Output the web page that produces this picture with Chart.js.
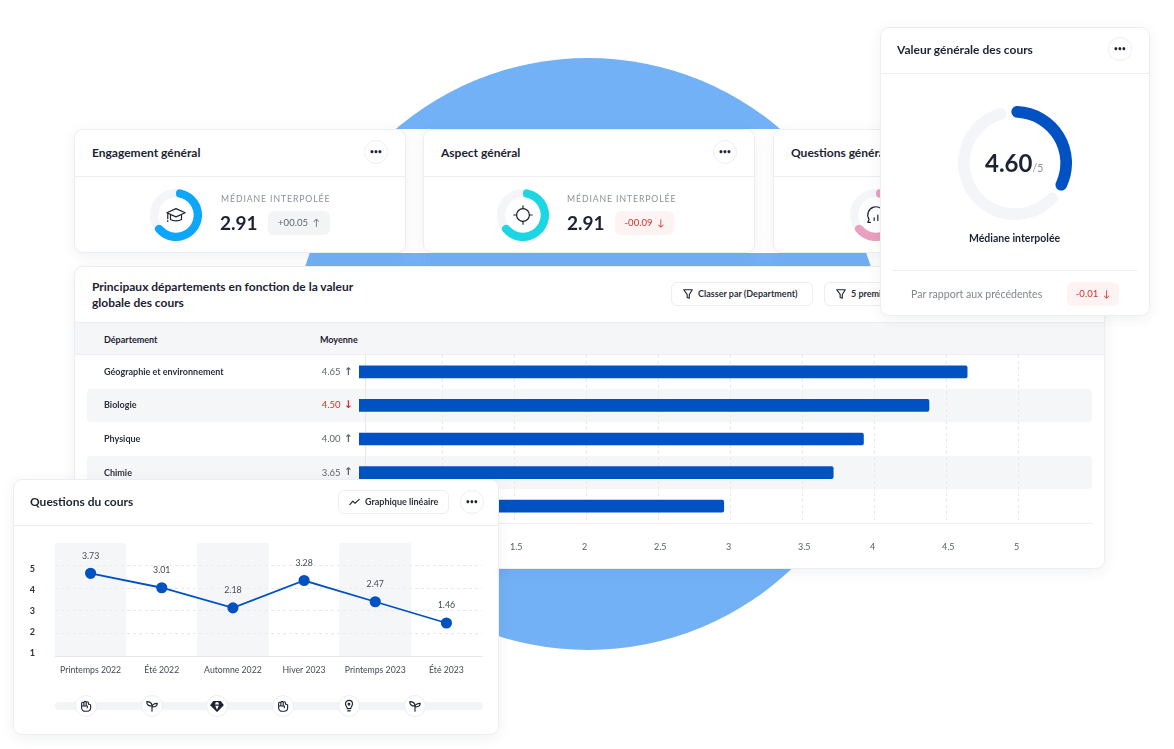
<!DOCTYPE html>
<html lang="fr">
<head>
<meta charset="UTF-8">
<title>Tableau de bord des cours</title>
<script src="https://cdn.jsdelivr.net/npm/chart.js"></script>
<style>
  html, body { margin: 0; background: #fff; }
  body { width: 1174px; height: 749px; position: relative; overflow: hidden; font-family: Lato, sans-serif; color: #1c2333; }
  .layer { position: absolute; left: 0; top: 0; }
  .layer > * { position: absolute; }
  .blob { left: 292px; top: 58px; width: 592px; height: 592px; border-radius: 50%; background: #73b1f6; }
  .card { background: #fff; border: 1px solid #eceef2; border-radius: 9px; box-shadow: 0 3px 14px rgba(40,50,80,.07); box-sizing: border-box; }
  .rule { height: 1px; background: #eceef2; }
  .t { white-space: nowrap; line-height: 16px; }
  .title { font-size: 12px; font-weight: 700; }
  .dots { width: 24px; height: 24px; border: 1px solid #eceef2; border-radius: 50%; box-sizing: border-box; background: #fff; text-align: center; font-size: 6.5px; line-height: 22px; letter-spacing: .3px; font-weight: 700; }
  .caps { font-size: 8.7px; letter-spacing: .9px; color: #8a909c; }
  .big { font-size: 19px; font-weight: 700; line-height: 24px; }
  .badge { border-radius: 6px; text-align: center; font-size: 9.5px; line-height: 24px; white-space: nowrap; }
  .grey { background: #f3f4f6; color: #5d6470; }
  .red { background: #fdf3f2; color: #d3322c; }
  .btn { height: 24px; border: 1px solid #eceef2; border-radius: 6px; box-sizing: border-box; background: #fff; font-size: 9px; font-weight: 700; line-height: 22px; white-space: nowrap; color: #2a3140; }
  .btn svg { vertical-align: -3px; margin: 0 4px 0 10px; }
  .stripe { left: 87px; width: 1005px; height: 33px; background: #f5f6f8; border-radius: 4px; }
  .node { width: 22px; height: 22px; top: 695px; border: 1px solid #eceef2; border-radius: 50%; box-sizing: border-box; background: #fff; }
  .node svg { position: absolute; left: 3px; top: 3px; }
  svg { fill: none; stroke: #1c2333; stroke-width: 1.3; stroke-linecap: round; stroke-linejoin: round; }
</style>
</head>
<body>
<svg width="0" height="0" style="position:absolute">
  <symbol id="funnel" viewBox="0 0 14 14"><path d="M2 2h10L8.500 7.500V12L6 11V7.500z"/></symbol>
  <symbol id="cap" viewBox="0 0 24 24"><path d="M12 5 2 9.500l10 4.500 10-4.500zM6 12v5c3 2 9 2 12 0v-5M3 11v5M3 18v1"/></symbol>
  <symbol id="target" viewBox="0 0 24 24"><circle cx="12" cy="12" r="7"/><path d="M12 2v3M12 19v3M2 12h3M19 12h3"/></symbol>
  <symbol id="chat" viewBox="0 0 24 24"><path d="M6 20H3l1.500-3A9 9 0 1 1 21 12M10 18v-3M14 18v-6M18 18V9"/></symbol>
  <symbol id="fist" viewBox="0 0 16 16"><path d="M3 8V5a1.300 1.300 0 0 1 2.600 0V4a1.300 1.300 0 0 1 2.600 0v.500a1.300 1.300 0 0 1 2.600 0V6h1a1.500 1.500 0 0 1 1.500 1.500V10a4 4 0 0 1-4 4H7a4 4 0 0 1-4-4zM3 8h6.500v2M5.600 5v3M8.200 4.500V8"/></symbol>
  <symbol id="sprout" viewBox="0 0 16 16"><path d="M8 14V8C8 5 6 3 2 3c0 3 2 5 6 5M8 9c0-2 2-4 6-4 0 3-2 4-6 4"/></symbol>
  <symbol id="gem" viewBox="0 0 16 16"><path d="M4 3h8l3 4-7 7-7-7zM1 7h14M6 3 5 7l3 7 3-7-1-4" fill="#1c2333"/></symbol>
  <symbol id="bulb" viewBox="0 0 16 16"><path d="M6 11c0-2-2-3-2-5.500a4 4 0 0 1 8 0C12 8 10 9 10 11zM6.500 13.500h3"/><circle cx="8" cy="6" r="1"/></symbol>
  <symbol id="spark" viewBox="0 0 14 14"><path d="m1 10 3.500-4 2.500 2.500L12 4"/></symbol>
</svg>

<div class="layer" style="z-index:1">
  <div class="blob"></div>
  <div style="left:74px;top:129px;width:1031px;height:124px;background:#fff"></div>
</div>

<!-- departements -->
<div class="layer" style="z-index:2">
  <div class="card" style="left:74px;top:266px;width:1031px;height:303px"></div>
  <div class="t title" style="left:92px;top:279px">Principaux départements en fonction de la valeur</div>
  <div class="t title" style="left:92px;top:295px">globale des cours</div>
  <div class="btn" style="left:671px;top:282px;width:142px"><svg width="12" height="12"><use href="#funnel"/></svg>Classer par (Department)</div>
  <div class="btn" style="left:824px;top:282px;width:130px"><svg width="12" height="12"><use href="#funnel"/></svg>5 premiers</div>
  <div style="left:75px;top:322px;width:1029px;height:33px;background:#f5f6f8;border-top:1px solid #eceef2;border-bottom:1px solid #eceef2;box-sizing:border-box"></div>
  <div class="t" style="left:104px;top:332px;font-size:9px;font-weight:700">Département</div>
  <div class="t" style="left:320px;top:332px;font-size:9px;font-weight:700">Moyenne</div>
  <div class="stripe" style="top:389px"></div>
  <div class="stripe" style="top:456px"></div>
  <canvas id="barChart" width="1029" height="211" style="left:75px;top:355px"></canvas>
</div>

<!-- cartes du haut -->
<div class="layer" style="z-index:3">
  <div class="card" style="left:74px;top:129px;width:332px;height:124px"></div>
  <div class="t title" style="left:92px;top:145px">Engagement général</div>
  <div class="dots" style="left:364px;top:140px">•••</div>
  <div class="rule" style="left:75px;top:176px;width:330px"></div>
  <canvas id="ringEngagement" width="52" height="52" style="left:150px;top:189px"></canvas>
  <svg width="22" height="22" style="left:165px;top:204px"><use href="#cap"/></svg>
  <div class="t caps" style="left:221px;top:191px">MÉDIANE INTERPOLÉE</div>
  <div class="big" style="left:220px;top:211px">2.91</div>
  <div class="badge grey" style="left:268px;top:211px;width:62px">+00.05 &nbsp;↑</div>

  <div class="card" style="left:423px;top:129px;width:332px;height:124px"></div>
  <div class="t title" style="left:441px;top:145px">Aspect général</div>
  <div class="dots" style="left:713px;top:140px">•••</div>
  <div class="rule" style="left:424px;top:176px;width:330px"></div>
  <canvas id="ringAspect" width="52" height="52" style="left:497px;top:189px"></canvas>
  <svg width="22" height="22" style="left:512px;top:204px"><use href="#target"/></svg>
  <div class="t caps" style="left:567px;top:191px">MÉDIANE INTERPOLÉE</div>
  <div class="big" style="left:567px;top:211px">2.91</div>
  <div class="badge red" style="left:615px;top:211px;width:59px">-00.09 &nbsp;↓</div>

  <div class="card" style="left:773px;top:129px;width:332px;height:124px"></div>
  <div class="t title" style="left:791px;top:145px">Questions générales</div>
  <div class="rule" style="left:774px;top:176px;width:330px"></div>
  <canvas id="ringQuestions" width="52" height="52" style="left:850px;top:189px"></canvas>
  <svg width="22" height="22" style="left:865px;top:204px"><use href="#chat"/></svg>
</div>

<!-- questions du cours -->
<div class="layer" style="z-index:4">
  <div class="card" style="left:13px;top:479px;width:486px;height:256px"></div>
  <div class="t title" style="left:30px;top:494px">Questions du cours</div>
  <div class="btn" style="left:338px;top:490px;width:111px"><svg width="12" height="12"><use href="#spark"/></svg>Graphique linéaire</div>
  <div class="dots" style="left:460px;top:490px">•••</div>
  <div class="rule" style="left:14px;top:525px;width:484px"></div>
  <canvas id="lineChart" width="484" height="165" style="left:14px;top:526px"></canvas>
  <div style="left:55px;top:702px;width:428px;height:8px;background:#f3f4f6;border-radius:4px"></div>
  <div class="node" style="left:75px"><svg width="14" height="14"><use href="#fist"/></svg></div>
  <div class="node" style="left:141px"><svg width="14" height="14"><use href="#sprout"/></svg></div>
  <div class="node" style="left:206px"><svg width="14" height="14"><use href="#gem"/></svg></div>
  <div class="node" style="left:272px"><svg width="14" height="14"><use href="#fist"/></svg></div>
  <div class="node" style="left:338px"><svg width="14" height="14"><use href="#bulb"/></svg></div>
  <div class="node" style="left:404px"><svg width="14" height="14"><use href="#sprout"/></svg></div>
</div>

<!-- valeur generale -->
<div class="layer" style="z-index:5">
  <div class="card" style="left:880px;top:27px;width:270px;height:289px"></div>
  <div class="t title" style="left:897px;top:42px">Valeur générale des cours</div>
  <div class="dots" style="left:1108px;top:37px">•••</div>
  <div class="rule" style="left:881px;top:73px;width:268px"></div>
  <canvas id="ringValue" width="114" height="114" style="left:958px;top:106px"></canvas>
  <div class="t" style="left:985px;top:147px;font-size:24px;font-weight:700;line-height:32px">4.60<span style="font-size:10.5px;font-weight:400;color:#8a909c">/5</span></div>
  <div class="t" style="left:969px;top:230px;font-size:10.5px;font-weight:700">Médiane interpolée</div>
  <div class="rule" style="left:892px;top:270px;width:245px"></div>
  <div class="t" style="left:911px;top:286px;font-size:10.6px;color:#80868f">Par rapport aux précédentes</div>
  <div class="badge red" style="left:1067px;top:282px;width:52px">-0.01 &nbsp;↓</div>
</div>

<script>
const departments = ['Géographie et environnement', 'Biologie', 'Physique', 'Chimie', 'Informatique'];
const meanLabels = ['4.65', '4.50', '4.00', '3.65', '3.00'];
const meanTrend = ['↑', '↓', '↑', '↑', '↑'];
const barValues = [4.64, 4.375, 3.92, 3.71, 2.95];
const barTicks = [0.463, 1, 1.5, 2, 2.5, 3, 3.5, 4, 4.5, 5];

const terms = ['Printemps 2022', 'Été 2022', 'Automne 2022', 'Hiver 2023', 'Printemps 2023', 'Été 2023'];
const termValues = [3.66, 3.02, 2.13, 3.34, 2.4, 1.46];
const termLabels = ['3.73', '3.01', '2.18', '3.28', '2.47', '1.46'];
const termBands = [5, null, 5, null, 5, null];
const gridTicks = [1, 2, 3, 4];
const scoreTicks = [1, 2, 3, 4, 5];

const engagementArc = [67, 33];
const aspectArc = [67, 33];
const questionsArc = [67, 33];
const valueArc = [36, 64];

const BLUE = '#0052c2';
Chart.defaults.font.family = 'Lato, sans-serif';
Chart.defaults.animation = false;
Chart.defaults.responsive = false;
Chart.defaults.plugins.legend.display = false;
Chart.defaults.plugins.tooltip.enabled = false;

// la demi-hauteur des libelles ne doit pas decaler la zone de trace
function noScalePadding(s) {
    s.paddingTop = 0;
    s.paddingBottom = 0;
}

// moyenne + fleche, a gauche des barres
const meanColumn = {
    id: 'meanColumn',
    afterDraw(chart) {
        const ctx = chart.ctx;
        ctx.save();
        ctx.textBaseline = 'middle';
        meanLabels.forEach((label, i) => {
            const y = chart.scales.y.getPixelForValue(i);
            ctx.fillStyle = meanTrend[i] === '↓' ? '#d3322c' : '#5d6470';
            ctx.font = '9.5px Lato, sans-serif';
            ctx.textAlign = 'right';
            ctx.fillText(label, 265.5, y);
            ctx.font = 'bold 10.5px "DejaVu Sans", sans-serif';
            ctx.textAlign = 'center';
            ctx.fillText(meanTrend[i], 273.5, y);
        });
        ctx.restore();
    }
};

new Chart(document.getElementById('barChart'), {
    type: 'bar',
    data: {
        labels: departments,
        datasets: [{ data: barValues, backgroundColor: BLUE, borderRadius: 2, borderSkipped: 'left', barThickness: 12 }]
    },
    options: {
        indexAxis: 'y',
        layout: { padding: { left: 29, right: 12 } },
        scales: {
            x: {
                min: 0.417,
                max: 5.507,
                afterBuildTicks(s) { s.ticks = barTicks.map(v => ({ value: v })); },
                afterFit(s) { s.height = 43; },
                grid: { color: '#e6e8ec', drawTicks: false },
                border: { dash: c => (c.tick && c.tick.value < 1 ? [] : [3, 3]), color: '#eceef2' },
                ticks: { align: 'start', labelOffset: -5, padding: 19, autoSkip: false, maxRotation: 0, color: '#555b66', font: { size: 9 }, callback: v => (v < 1 ? '' : String(v)) }
            },
            y: {
                afterFit(s) { s.width = 255; noScalePadding(s); },
                grid: { display: false },
                border: { display: false },
                ticks: { crossAlign: 'far', padding: 0, color: '#2a3140', font: { size: 9, weight: 'bold' } }
            }
        }
    },
    plugins: [meanColumn]
});

// valeurs au-dessus des points
const pointLabels = {
    id: 'pointLabels',
    afterDatasetsDraw(chart) {
        const ctx = chart.ctx;
        ctx.save();
        ctx.font = '8.8px Lato, sans-serif';
        ctx.fillStyle = '#444a55';
        ctx.textAlign = 'center';
        ctx.textBaseline = 'middle';
        chart.getDatasetMeta(0).data.forEach((pt, i) => ctx.fillText(termLabels[i], pt.x, pt.y - 17.5));
        ctx.restore();
    }
};

new Chart(document.getElementById('lineChart'), {
    type: 'bar',
    data: {
        labels: terms,
        datasets: [
            { type: 'line', data: termValues, order: 0, borderColor: BLUE, borderWidth: 1.8, backgroundColor: BLUE, pointRadius: 4.7, tension: 0 },
            { type: 'bar', data: termBands, order: 1, backgroundColor: 'rgba(238,240,244,.6)', barPercentage: 1, categoryPercentage: 1, borderRadius: { topLeft: 3, topRight: 3 } }
        ]
    },
    options: {
        layout: { padding: { top: 17, right: 16 } },
        scales: {
            x: {
                afterFit(s) { s.height = 35; },
                grid: { display: false, drawTicks: false },
                border: { color: '#e6e8ec' },
                ticks: { padding: 9, autoSkip: false, maxRotation: 0, color: '#444a55', font: { size: 8.7 } }
            },
            y: {
                min: 0,
                max: 5,
                afterBuildTicks(s) { s.ticks = gridTicks.map(v => ({ value: v })); },
                afterFit(s) { s.width = 0; noScalePadding(s); },
                grid: { color: '#e6e8ec', drawTicks: false },
                border: { display: false, dash: [3, 3] },
                ticks: { display: false }
            },
            score: {
                position: 'left',
                min: 0.85,
                max: 6.255,
                afterBuildTicks(s) { s.ticks = scoreTicks.map(v => ({ value: v })); },
                afterFit(s) { s.width = 41; noScalePadding(s); },
                grid: { display: false, drawTicks: false },
                border: { display: false },
                ticks: { padding: 20, color: '#2a3140', font: { size: 9, weight: 'bold' }, callback: v => String(v) }
            }
        }
    },
    plugins: [pointLabels]
});

const ringTrack = {
    id: 'ringTrack',
    beforeDatasetsDraw(chart) {
        const arc = chart.getDatasetMeta(0).data[0];
        const ctx = chart.ctx;
        ctx.save();
        ctx.strokeStyle = '#f4f5f8';
        ctx.lineWidth = arc.outerRadius - arc.innerRadius;
        ctx.beginPath();
        ctx.arc(arc.x, arc.y, (arc.outerRadius + arc.innerRadius) / 2, 0, Math.PI * 2);
        ctx.stroke();
        ctx.restore();
    }
};

function smallRing(id, values, color) {
    new Chart(document.getElementById(id), {
        type: 'doughnut',
        data: { datasets: [{ data: values, backgroundColor: [color, 'transparent'], borderWidth: 0, borderRadius: 4 }] },
        options: { cutout: '68%' },
        plugins: [ringTrack]
    });
}
smallRing('ringEngagement', engagementArc, '#0ca6fb');
smallRing('ringAspect', aspectArc, '#1cd6e4');
smallRing('ringQuestions', questionsArc, '#e89fc0');

new Chart(document.getElementById('ringValue'), {
    type: 'doughnut',
    data: { datasets: [{ data: valueArc, backgroundColor: [BLUE, '#f4f5f8'], borderWidth: 0, borderRadius: 6, spacing: 3 }] },
    options: { cutout: '79%', rotation: -6 }
});
</script>
</body>
</html>
